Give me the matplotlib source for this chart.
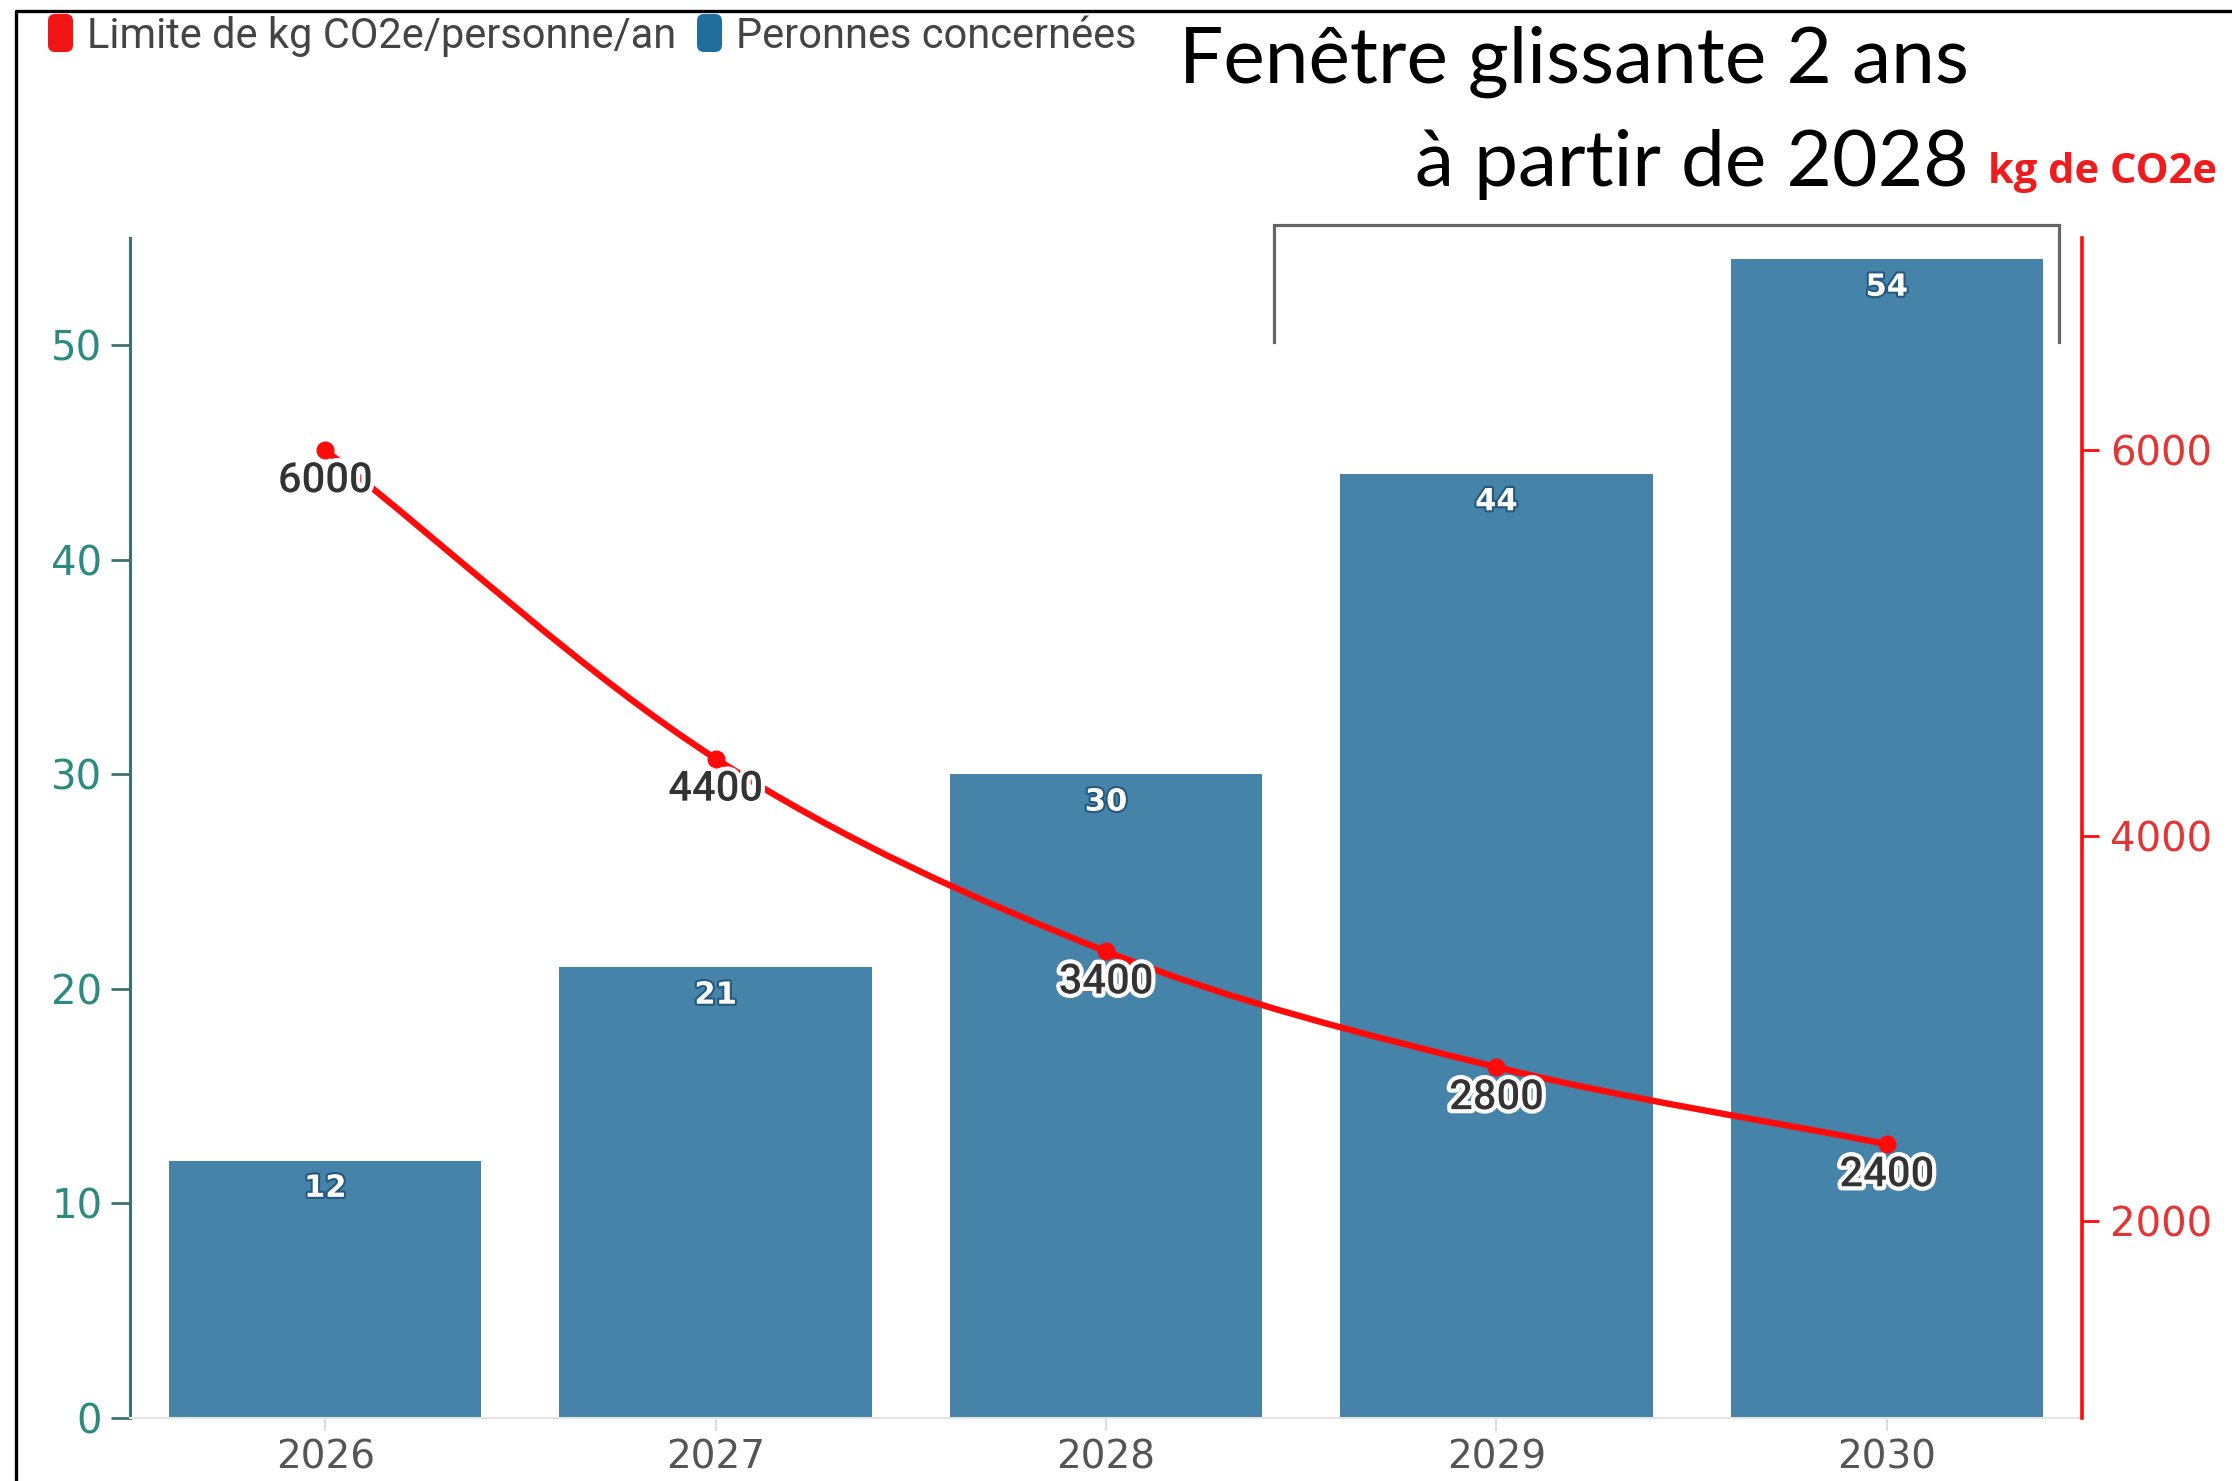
import numpy as np
import matplotlib.pyplot as plt
import matplotlib.patheffects as pe
from matplotlib.lines import Line2D
from matplotlib.patches import FancyBboxPatch, PathPatch
from matplotlib.path import Path
from matplotlib.transforms import IdentityTransform

years = ["2026", "2027", "2028", "2029", "2030"]
persons = [12, 21, 30, 44, 54]
co2_limit = [6000, 4400, 3400, 2800, 2400]
left_ticks = [0, 10, 20, 30, 40, 50]
right_ticks = [2000, 4000, 6000]

W, H, DPI = 2232, 1481, 100

BAR = "#4683a9"
RED = "#ff0a0a"
TEAL = "#2d8a80"
SPINE_L = "#3e726e"
GREY_TXT = "#555555"


def monotone_path(xs, ys):
    """Smooth monotone cubic through the points, as a bezier Path."""
    xs = np.asarray(xs, float)
    ys = np.asarray(ys, float)
    h = np.diff(xs)
    d = np.diff(ys) / h
    m = np.empty_like(ys)
    m[0], m[-1] = d[0], d[-1]
    for k in range(1, len(ys) - 1):
        if d[k - 1] * d[k] <= 0:
            m[k] = 0.0
        else:
            m[k] = (h[k - 1] * d[k] + h[k] * d[k - 1]) / (h[k - 1] + h[k])
    verts = [(xs[0], ys[0])]
    codes = [Path.MOVETO]
    for k in range(len(xs) - 1):
        t = h[k] / 3
        verts += [(xs[k] + t, ys[k] + m[k] * t),
                  (xs[k + 1] - t, ys[k + 1] - m[k + 1] * t),
                  (xs[k + 1], ys[k + 1])]
        codes += [Path.CURVE4] * 3
    return Path(verts, codes)


def px(x, y):
    # pixel position measured from the top-left corner -> display coords
    return x, H - y


fig = plt.figure(figsize=(W / DPI, H / DPI), dpi=DPI)
fig.patch.set_facecolor("white")

ax = fig.add_axes([130 / W, 1 - 1418 / H, (2082 - 130) / W, (1418 - 238) / H])
x = np.arange(len(years))
ax.bar(x, persons, width=0.8, color=BAR, zorder=2)
ax.set_xlim(-0.5, 4.5)
ax.set_ylim(0, 55)
ax.set_xticks(x, years)
ax.set_yticks(left_ticks)

for s in ("top", "right"):
    ax.spines[s].set_visible(False)
ax.spines["left"].set_color(SPINE_L)
ax.spines["left"].set_linewidth(2.2)
ax.spines["bottom"].set_color("#e4e4e4")
ax.spines["bottom"].set_linewidth(1.5)
ax.tick_params(axis="y", colors=SPINE_L, labelcolor=TEAL, length=14, width=2,
               pad=6, labelsize=29)
ax.tick_params(axis="x", colors="#dcdcdc", labelcolor=GREY_TXT, length=9,
               width=1.5, pad=6, labelsize=28)

for xi, v in zip(x, persons):
    ax.annotate(str(v), (xi, v), xytext=(0, -20), textcoords="offset points",
                ha="center", va="center", fontsize=22, fontweight="bold",
                color="white", family="DejaVu Sans", zorder=3,
                path_effects=[pe.withStroke(linewidth=3, foreground="#24587c")])

ax2 = ax.twinx()
ax2.set_ylim(980, 7100)
ax2.set_yticks(right_ticks)
for s in ("top", "left", "bottom"):
    ax2.spines[s].set_visible(False)
ax2.spines["right"].set_color(RED)
ax2.spines["right"].set_linewidth(2.6)
ax2.tick_params(axis="y", colors=RED, labelcolor="#e23535", length=12, width=2,
                pad=8, labelsize=29)

ax2.add_patch(PathPatch(monotone_path(x, co2_limit), facecolor="none",
                        edgecolor=RED, linewidth=4.6, capstyle="round",
                        zorder=3))
ax2.plot(x, co2_limit, "o", color=RED, markersize=12, zorder=4)
for xi, v in zip(x, co2_limit):
    ax2.annotate(str(v), (xi, v), xytext=(0, -22), textcoords="offset points",
                 ha="center", va="center", fontsize=30, color="#333333",
                 family="Roboto", fontweight="medium", zorder=5,
                 path_effects=[pe.withStroke(linewidth=6, foreground="white")])

# bracket over the last years
brk_x = ax.transData.transform([(2.43, 0), (4.44, 0)])[:, 0]
bx0, bx1 = brk_x
fig.add_artist(Line2D([bx0, bx0, bx1, bx1], [H - 342, H - 225, H - 225, H - 342],
                      transform=IdentityTransform(), color="#666666",
                      linewidth=2.3, solid_joinstyle="miter"))

# outer frame (left and top edges)
fig.add_artist(Line2D([16, 16, W], [0, H - 11, H - 11],
                      transform=IdentityTransform(), color="black", linewidth=2.4))

# legend
legend_items = [("Limite de kg CO2e/personne/an", "#f01414", 48),
                ("Peronnes concernées", "#1f6e9c", 697)]
for label, col, lx in legend_items:
    bx, by = px(lx, 52)
    fig.add_artist(FancyBboxPatch((bx, by), 25, 38,
                                  boxstyle="round,pad=0,rounding_size=7",
                                  transform=IdentityTransform(), facecolor=col,
                                  edgecolor="none"))
    tx, ty = px(lx + 39, 48)
    fig.text(tx / W, ty / H, label, fontsize=30, color="#444444",
             family="Roboto", ha="left", va="baseline")

# heading
fig.text(1179 / W, 1 - 83 / H, "Fenêtre glissante 2 ans", fontsize=56.5,
         family="Lato", color="black", ha="left", va="baseline")
fig.text(1969 / W, 1 - 186 / H, "à partir de 2028", fontsize=56.5,
         family="Lato", color="black", ha="right", va="baseline")
fig.text(1988 / W, 1 - 183 / H, "kg de CO2e", fontsize=30, fontweight="bold",
         family="Open Sans", color="#ee1c1c", ha="left", va="baseline")

fig.savefig("out.png", dpi=DPI)
